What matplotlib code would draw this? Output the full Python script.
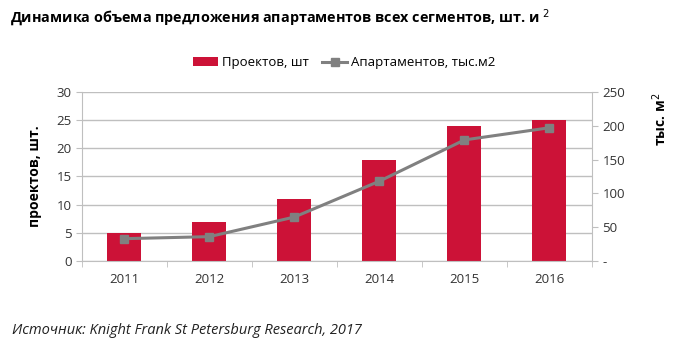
import matplotlib
matplotlib.use("Agg")
import matplotlib.pyplot as plt
import numpy as np

# Данные
years = ["2011", "2012", "2013", "2014", "2015", "2016"]
projects = [5, 7, 11, 18, 24, 25]             # Проектов, шт
apartments = [33, 36, 65, 118, 179, 197]      # Апартаментов, тыс.м2

bar_color = "#cc1237"
line_color = "#808080"
grid_color = "#bfbfbf"

plt.rcParams["font.family"] = ["Open Sans", "DejaVu Sans"]

fig = plt.figure(figsize=(6.82, 3.59), dpi=100)
ax = fig.add_axes([0.120, 0.273, 0.748, 0.471])
ax2 = ax.twinx()

x = np.arange(len(years))
ax.bar(x, projects, width=0.4, color=bar_color, zorder=2, label="Проектов, шт")
ax2.plot(x, apartments, color=line_color, lw=2.2, marker="s", ms=6,
         zorder=3, label="Апартаментов, тыс.м2")

ax.set_xlim(-0.5, len(years) - 0.5)
ax.set_ylim(0, 30)
ax.set_yticks(range(0, 31, 5))
ax2.set_ylim(0, 250)
ax2.set_yticks(range(0, 251, 50))
ax2.set_yticklabels(["-", "50", "100", "150", "200", "250"])

ax.yaxis.grid(True, color=grid_color, lw=1, zorder=0)
ax.set_axisbelow(True)

ax.set_xticks(x)
ax.set_xticklabels(years)
ax.set_xticks(np.arange(-0.5, len(years)), minor=True)
ax.tick_params(axis="x", which="major", length=0, labelsize=9.5, pad=9, colors="#333333")
ax.tick_params(axis="x", which="minor", length=4, color=grid_color)
ax.tick_params(axis="y", length=4, color=grid_color, labelsize=9.5, colors="#333333")
ax2.tick_params(axis="y", length=4, color=grid_color, labelsize=9.5, colors="#333333")

for a in (ax, ax2):
    for s in a.spines.values():
        s.set_visible(False)
ax.spines["left"].set_visible(True)
ax.spines["left"].set_color(grid_color)
ax.spines["bottom"].set_visible(True)
ax.spines["bottom"].set_color(grid_color)
ax2.spines["right"].set_visible(True)
ax2.spines["right"].set_color(grid_color)

ax.set_ylabel("проектов, шт.", fontsize=10, fontweight="bold", labelpad=10)
ax2.set_ylabel("тыс. м$^2$", fontsize=10, fontweight="bold", rotation=90,
               va="center", ha="center")
ax2.yaxis.set_label_coords(1.133, 0.84)

h1, l1 = ax.get_legend_handles_labels()
h2, l2 = ax2.get_legend_handles_labels()
fig.legend(h1 + h2, l1 + l2, loc="center", bbox_to_anchor=(0.505, 0.825), ncol=2,
           frameon=False, fontsize=9.5, handlelength=1.9, columnspacing=1.0,
           handletextpad=0.3)

fig.text(0.015, 0.948, "Динамика объема предложения апартаментов всех сегментов, шт. и $^2$",
         fontsize=10.4, fontweight="bold", va="center")
fig.text(0.018, 0.078, "Источник: Knight Frank St Petersburg Research, 2017",
         fontsize=10.5, style="italic", va="center", color="#222222")

fig.savefig("out.png", dpi=100)
